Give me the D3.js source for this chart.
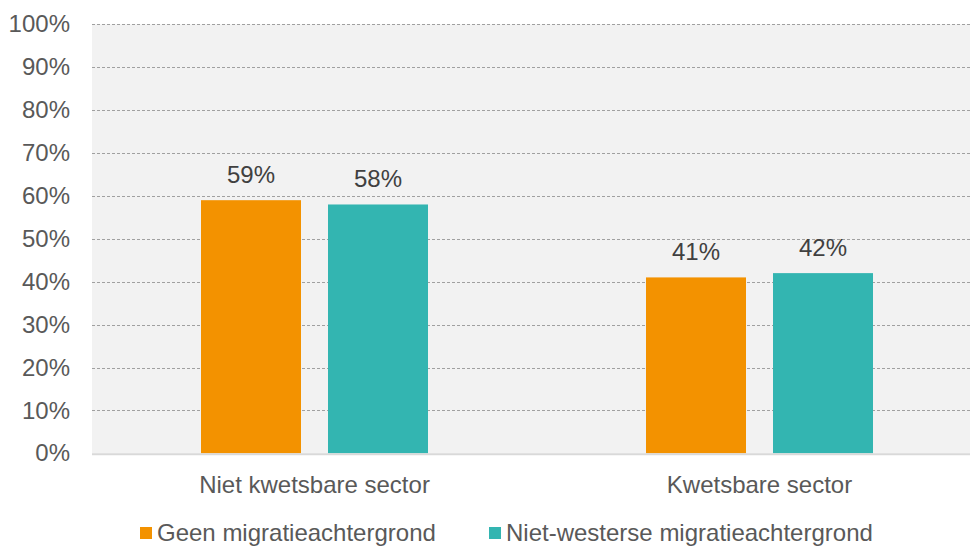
<!DOCTYPE html>
<html>
<head>
<meta charset="utf-8">
<script src="https://cdn.jsdelivr.net/npm/d3@7"></script>
<style>
  html, body { margin: 0; padding: 0; background: #ffffff; }
  svg { display: block; font-family: Arial, "Liberation Sans", sans-serif; }
</style>
</head>
<body>
<svg id="chart" width="970" height="546"></svg>
<script>
// Sector categories and the two groups compared per sector
const categories = ["Niet kwetsbare sector", "Kwetsbare sector"];
const seriesNames = ["Geen migratieachtergrond", "Niet-westerse migratieachtergrond"];
const geenMigratie = [59, 41];
const nietWesters = [58, 42];
const yTicks = [0, 10, 20, 30, 40, 50, 60, 70, 80, 90, 100];
const colors = ["#f39200", "#33b5b1"];

const seriesValues = [geenMigratie, nietWesters];

const width = 970, height = 546;
const plot = { left: 92, right: 982, top: 24.3, bottom: 453.3 };

const svg = d3.select("#chart");

const x0 = d3.scaleBand().domain(categories).range([plot.left, plot.right]).padding(0);
const x1 = d3.scaleBand().domain(seriesNames).range([109, 336]).paddingInner(27 / 127).paddingOuter(0);
const y = d3.scaleLinear().domain([0, 100]).range([plot.bottom, plot.top]);

// Plot area background
svg.append("rect")
  .attr("x", plot.left).attr("y", plot.top)
  .attr("width", plot.right - plot.left).attr("height", plot.bottom - plot.top)
  .attr("fill", "#f2f2f2");

// Dashed gridlines
svg.append("g").selectAll("line")
  .data(yTicks.filter(d => d > 0))
  .join("line")
  .attr("x1", plot.left).attr("x2", plot.right)
  .attr("y1", d => Math.round(y(d)) + 0.5).attr("y2", d => Math.round(y(d)) + 0.5)
  .attr("stroke", "#a0a0a0").attr("stroke-width", 1)
  .attr("stroke-dasharray", "3,2");

// Y axis labels
const yAxis = d3.axisLeft(y).tickValues(yTicks).tickFormat(d => d + "%").tickSize(0).tickPadding(22);
const gy = svg.append("g").attr("transform", `translate(${plot.left},0)`).call(yAxis);
gy.select(".domain").remove();
gy.selectAll("text")
  .attr("fill", "#595959").attr("font-size", 24)
  .attr("font-family", "Arial, 'Liberation Sans', sans-serif");

// Bars
const rows = categories.map((c, i) => ({ cat: c, vals: seriesNames.map((s, j) => ({ s, j, v: seriesValues[j][i] })) }));
const groups = svg.append("g").selectAll("g")
  .data(rows).join("g")
  .attr("transform", d => `translate(${x0(d.cat)},0)`);

groups.selectAll("rect")
  .data(d => d.vals).join("rect")
  .attr("x", d => x1(d.s))
  .attr("y", d => y(d.v))
  .attr("width", x1.bandwidth())
  .attr("height", d => y(0) - y(d.v))
  .attr("fill", d => colors[d.j]);

// Value labels
groups.selectAll("text.val")
  .data(d => d.vals).join("text")
  .attr("class", "val")
  .attr("x", d => x1(d.s) + x1.bandwidth() / 2)
  .attr("y", d => y(d.v) - 17)
  .attr("text-anchor", "middle")
  .attr("font-size", 24)
  .attr("fill", "#404040")
  .text(d => d.v + "%");

// Baseline
svg.append("line")
  .attr("x1", plot.left).attr("x2", plot.right)
  .attr("y1", plot.bottom + 1).attr("y2", plot.bottom + 1)
  .attr("stroke", "#d9d9d9").attr("stroke-width", 2);

// Category labels
const xAxis = d3.axisBottom(x0).tickSize(0).tickPadding(0);
const gx = svg.append("g").attr("transform", `translate(0,${plot.bottom})`).call(xAxis);
gx.select(".domain").remove();
gx.selectAll("text")
  .attr("y", 39.5).attr("dy", null)
  .attr("fill", "#595959").attr("font-size", 24)
  .attr("font-family", "Arial, 'Liberation Sans', sans-serif");

// Legend
const legendX = [140, 489];
const legend = svg.append("g").selectAll("g")
  .data(seriesNames).join("g")
  .attr("transform", (d, i) => `translate(${legendX[i]},0)`);
legend.append("rect")
  .attr("x", 0).attr("y", 527).attr("width", 12).attr("height", 12)
  .attr("fill", (d, i) => colors[i]);
legend.append("text")
  .attr("x", 17).attr("y", 540.5)
  .attr("font-size", 24).attr("fill", "#595959")
  .text(d => d);
</script>
</body>
</html>
